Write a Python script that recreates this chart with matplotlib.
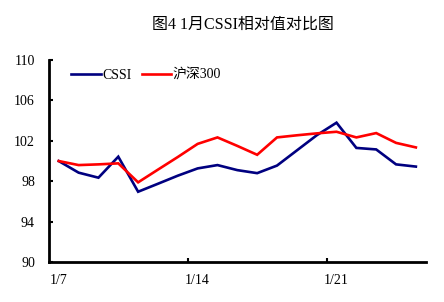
import matplotlib
matplotlib.use("Agg")
import matplotlib.pyplot as plt
from matplotlib.ticker import FixedLocator, NullFormatter

plt.rcParams['font.family'] = ['Liberation Serif', 'Noto Sans CJK SC', 'DejaVu Sans']

title = "图4 1月CSSI相对值对比图"
categories = [f"1/{d}" for d in range(7, 26)]
cssi = [100.0, 98.85, 98.35, 100.43, 96.96, 97.75, 98.55, 99.27, 99.6, 99.1,
        98.8, 99.55, 101.05, 102.55, 103.8, 101.3, 101.15, 99.67, 99.45]
hs300 = [100.0, 99.6, 99.67, 99.77, 97.89, 99.15, 100.4, 101.7, 102.34, 101.5,
         100.62, 102.34, 102.55, 102.74, 102.9, 102.34, 102.77, 101.8, 101.35]
series_names = ["CSSI", "沪深300"]
yticks = [90, 94, 98, 102, 106, 110]
label_every = 7

fig = plt.figure(figsize=(4.44, 3.02), dpi=100)
ax = fig.add_axes([0.110, 0.1325, 0.849, 0.6685])

x = list(range(len(categories)))
ax.plot(x, cssi, color='#000080', lw=1.9, label=series_names[0], solid_joinstyle='miter')
ax.plot(x, hs300, color='#FF0000', lw=1.9, label=series_names[1], solid_joinstyle='miter')

ax.set_xlim(-0.5, len(categories) - 0.5)
ax.set_ylim(yticks[0], yticks[-1])
ax.set_yticks(yticks)
ax.set_yticklabels([str(v) for v in yticks])

# tick marks at category boundaries, labels at category centres
ax.xaxis.set_major_locator(FixedLocator([i - 0.5 for i in range(label_every, len(categories), label_every)]))
ax.xaxis.set_major_formatter(NullFormatter())
lab_pos = list(range(0, len(categories), label_every))
ax.xaxis.set_minor_locator(FixedLocator(lab_pos))
ax.set_xticks(lab_pos, minor=True)
ax.set_xticklabels([categories[i] for i in lab_pos], minor=True)
ax.tick_params(axis='x', which='major', direction='in', length=3, width=1.5)
ax.tick_params(axis='x', which='minor', length=0, pad=9, labelsize=10)
ax.tick_params(axis='y', direction='in', length=3, width=1.5, pad=10, labelsize=10)

for s in ['top', 'right']:
    ax.spines[s].set_visible(False)
for s in ['left', 'bottom']:
    ax.spines[s].set_linewidth(2)
    ax.spines[s].set_color('black')

ax.legend(loc='upper left', bbox_to_anchor=(0.045, 0.985), ncol=2, frameon=False,
          handlelength=2.1, handletextpad=0.15, columnspacing=0.7, fontsize=10,
          borderaxespad=0)

fig.text(0.547, 1 - 25/302, title, ha='center', va='center', fontsize=11.5,
         family=['Liberation Serif', 'Noto Sans CJK SC', 'DejaVu Sans'])

fig.savefig('out.png', dpi=100)
